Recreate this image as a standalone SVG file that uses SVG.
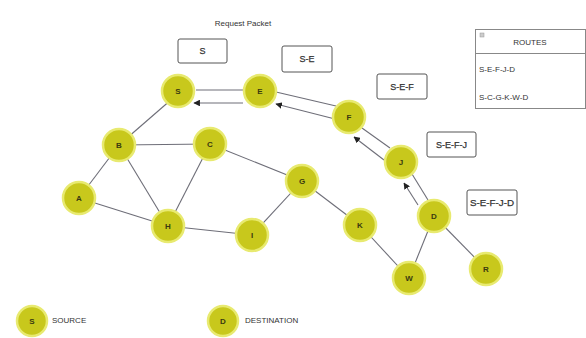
<svg xmlns="http://www.w3.org/2000/svg" width="586" height="338" viewBox="0 0 586 338">
<style>
.n circle{fill:#c8c81c;stroke:#e8ea70;stroke-width:2.5}
.n text{font-family:"Liberation Sans",Arial,sans-serif;font-size:8px;font-weight:bold;fill:#3a3a10;text-anchor:middle;dominant-baseline:central}
.e line{stroke:#6e6e78;stroke-width:1.1}
.box rect{fill:#fff;stroke:#555;stroke-width:1}
.box text{font-family:"Liberation Sans",Arial,sans-serif;font-size:9px;fill:#333;stroke:#333;stroke-width:0.25;text-anchor:middle;dominant-baseline:central}
.t{font-family:"Liberation Sans",Arial,sans-serif;font-size:8px;fill:#333}
</style>
<defs>
<marker id="ar" viewBox="0 0 10 10" refX="9" refY="5" markerWidth="6" markerHeight="6" orient="auto">
<path d="M0,0 L10,5 L0,10 z" fill="#222"/>
</marker>
</defs>
<rect width="586" height="338" fill="#fff"/>
<g id="connectors" class="e">
<line x1="180" y1="92" x2="119" y2="145"/>
<line x1="119" y1="145" x2="210" y2="144"/>
<line x1="119" y1="145" x2="79" y2="198"/>
<line x1="119" y1="145" x2="168" y2="226"/>
<line x1="210" y1="144" x2="168" y2="226"/>
<line x1="79" y1="198" x2="168" y2="226"/>
<line x1="168" y1="226" x2="252" y2="235"/>
<line x1="252" y1="235" x2="302" y2="181"/>
<line x1="210" y1="144" x2="302" y2="181"/>
<line x1="302" y1="181" x2="360" y2="225"/>
<line x1="360" y1="225" x2="409" y2="278"/>
<line x1="409" y1="278" x2="434" y2="216"/>
<line x1="434" y1="216" x2="486" y2="269"/>
<line x1="196" y1="90" x2="243" y2="90"/>
<line x1="243" y1="103" x2="194" y2="103" marker-end="url(#ar)"/>
<line x1="276" y1="92" x2="336" y2="106"/>
<line x1="335" y1="119" x2="276" y2="104" marker-end="url(#ar)"/>
<line x1="362" y1="128" x2="390" y2="148"/>
<line x1="384" y1="160" x2="354" y2="137" marker-end="url(#ar)"/>
<line x1="412" y1="174" x2="428" y2="200"/>
<line x1="418" y1="205" x2="404" y2="183" marker-end="url(#ar)"/>
</g>
<g id="nodeS" class="n"><circle cx="178" cy="91" r="16"/><text x="178" y="91">S</text></g>
<g id="nodeE" class="n"><circle cx="260" cy="91" r="16"/><text x="260" y="91">E</text></g>
<g id="nodeF" class="n"><circle cx="349" cy="117" r="16"/><text x="349" y="117">F</text></g>
<g id="nodeJ" class="n"><circle cx="401" cy="162" r="16"/><text x="401" y="162">J</text></g>
<g id="nodeD" class="n"><circle cx="434" cy="216" r="16"/><text x="434" y="216">D</text></g>
<g id="nodeR" class="n"><circle cx="486" cy="269" r="16"/><text x="486" y="269">R</text></g>
<g id="nodeW" class="n"><circle cx="409" cy="278" r="16"/><text x="409" y="278">W</text></g>
<g id="nodeK" class="n"><circle cx="360" cy="225" r="16"/><text x="360" y="225">K</text></g>
<g id="nodeG" class="n"><circle cx="302" cy="181" r="16"/><text x="302" y="181">G</text></g>
<g id="nodeI" class="n"><circle cx="252" cy="235" r="16"/><text x="252" y="235">I</text></g>
<g id="nodeH" class="n"><circle cx="168" cy="226" r="16"/><text x="168" y="226">H</text></g>
<g id="nodeC" class="n"><circle cx="210" cy="144" r="16"/><text x="210" y="144">C</text></g>
<g id="nodeB" class="n"><circle cx="119" cy="145" r="16"/><text x="119" y="145">B</text></g>
<g id="nodeA" class="n"><circle cx="79" cy="198" r="16"/><text x="79" y="198">A</text></g>
<text id="title" class="t" x="243" y="23" text-anchor="middle" dominant-baseline="central">Request Packet</text>
<g id="pkt1" class="box"><rect x="178" y="39" width="49" height="24" rx="2"/><text x="202.5" y="51">S</text></g>
<g id="pkt2" class="box"><rect x="282" y="46" width="50" height="26" rx="2"/><text x="307" y="59">S-E</text></g>
<g id="pkt3" class="box"><rect x="377" y="74" width="50" height="25" rx="2"/><text x="402" y="86.5">S-E-F</text></g>
<g id="pkt4" class="box"><rect x="427" y="132" width="49" height="25" rx="2"/><text x="451.5" y="144.5">S-E-F-J</text></g>
<g id="pkt5" class="box"><rect x="467" y="190" width="50" height="25" rx="2"/><text x="492" y="202.5" textLength="44" lengthAdjust="spacingAndGlyphs">S-E-F-J-D</text></g>
<g id="routes">
<rect x="475.5" y="29.5" width="110" height="79" fill="#fff" stroke="#888" stroke-width="1"/>
<line x1="475.5" y1="53.5" x2="585.5" y2="53.5" stroke="#888" stroke-width="1"/>
<rect x="480" y="33" width="4" height="4" fill="#ccc" stroke="#999" stroke-width="0.5"/>
<text class="t" x="530" y="42" text-anchor="middle" dominant-baseline="central">ROUTES</text>
<text class="t" x="479" y="69" dominant-baseline="central">S-E-F-J-D</text>
<text class="t" x="479" y="97" dominant-baseline="central">S-C-G-K-W-D</text>
</g>
<g id="legend-source" class="n"><circle cx="32" cy="321" r="15"/><text x="32" y="321">S</text></g>
<text class="t" x="52" y="320" dominant-baseline="central">SOURCE</text>
<g id="legend-destination" class="n"><circle cx="223" cy="321" r="15"/><text x="223" y="321">D</text></g>
<text class="t" x="245" y="320" dominant-baseline="central">DESTINATION</text>
</svg>
